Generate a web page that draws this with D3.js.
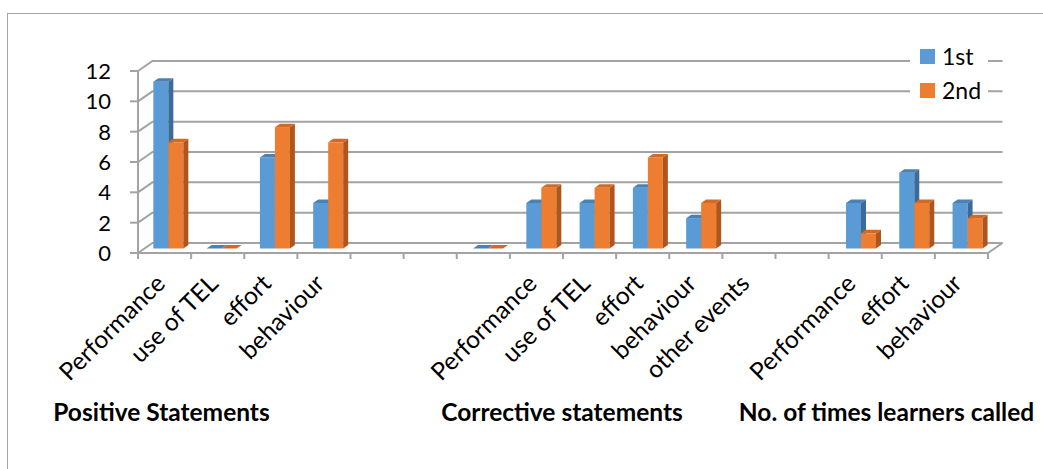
<!DOCTYPE html>
<html lang="en">
<head>
<meta charset="utf-8">
<title>Statements chart</title>
<script src="https://cdn.jsdelivr.net/npm/d3@7"></script>
<style>
  body { margin: 0; background: #fff; }
  text { font-family: Lato, sans-serif; fill: #000; }
  .grid { stroke: #a3a3a3; stroke-width: 2; fill: none; }
  .tick-label { font-size: 22px; }
  .cat-label { font-size: 24.5px; }
  .group-label { font-size: 24.5px; font-weight: bold; }
  .legend-label { font-size: 23px; }
</style>
</head>
<body>
<script>
// data
var categories = ['Performance', 'use of TEL', 'effort', 'behaviour', '', '',
                  '', 'Performance', 'use of TEL', 'effort', 'behaviour', 'other events',
                  '', 'Performance', 'effort', 'behaviour'];
var first  = [11, 0, 6, 3, null, null, 0, 3, 3, 4, 2, null, null, 3, 5, 3];
var second = [7, 0, 8, 7, null, null, 0, 4, 4, 6, 3, null, null, 1, 3, 2];
var seriesNames = ['1st', '2nd'];
var groupNames = ['Positive Statements', 'Corrective statements', 'No. of times learners called'];
var yTicks = [0, 2, 4, 6, 8, 10, 12];

var width = 1043, height = 469;
var depthX = 14.5, depthY = -10;   // front -> back wall offset
var barW = 15, sideX = 5, sideY = -3.5;

var colors = [
  { front: '#5b9bd5', side: '#3d6b98', top: '#4a81b6' },
  { front: '#ed7d31', side: '#ae561d', top: '#d16a26' }
];

var svg = d3.select('body').append('svg')
  .attr('width', width)
  .attr('height', height);

// chart border (only left + top inside the window)
svg.append('rect')
  .attr('x', 7.5).attr('y', 13.5)
  .attr('width', 1200).attr('height', 600)
  .attr('fill', 'none').attr('stroke', '#a6a6a6');

var slots = d3.range(categories.length);
var xFront = d3.scaleBand().domain(slots).range([138, 988]);
var yFront = d3.scaleLinear().domain([0, 12]).range([253, 71]);
var xBar = d3.scaleBand().domain(slots).range([141.7, 994.2]);
var yBar = d3.scaleLinear().domain([0, 12]).range([248.5, 66.5]);

var x0 = xFront.range()[0], x1 = xFront.range()[1];

// back wall gridlines + left wall slants
svg.selectAll('.grid-line')
  .data(yTicks)
  .enter()
  .append('polyline')
  .attr('class', 'grid')
  .attr('points', function(d){
    var y = yFront(d);
    return [[x0, y], [x0 + depthX, y + depthY], [x1 + depthX, y + depthY]].join(' ');
  });

// floor front edge and right slant
svg.append('polyline')
  .attr('class', 'grid')
  .attr('points', [[x0, yFront(0)], [x1, yFront(0)], [x1 + depthX, yFront(0) + depthY]].join(' '));

// left axis line
svg.append('line')
  .attr('class', 'grid')
  .attr('x1', x0).attr('x2', x0)
  .attr('y1', yFront(12)).attr('y2', yFront(0) + 6);

// y ticks
svg.selectAll('.y-tick')
  .data(yTicks)
  .enter()
  .append('line')
  .attr('class', 'grid')
  .attr('x1', x0 - 8).attr('x2', x0)
  .attr('y1', function(d){ return yFront(d); })
  .attr('y2', function(d){ return yFront(d); });

svg.selectAll('.tick-label')
  .data(yTicks)
  .enter()
  .append('text')
  .attr('class', 'tick-label')
  .attr('x', 111)
  .attr('y', function(d){ return yFront(d); })
  .attr('dy', '0.36em')
  .attr('text-anchor', 'end')
  .text(function(d){ return d; });

// x ticks at slot boundaries
var boundaries = slots.map(function(i){ return xFront(i); }).concat([x1]);
svg.selectAll('.x-tick')
  .data(boundaries)
  .enter()
  .append('line')
  .attr('class', 'grid')
  .attr('x1', function(d){ return d; })
  .attr('x2', function(d){ return d; })
  .attr('y1', yFront(0))
  .attr('y2', yFront(0) + 6);

// bars
var bars = [];
slots.forEach(function(i){
  [first, second].forEach(function(series, s){
    if (series[i] !== null) bars.push({ slot: i, s: s, value: series[i] });
  });
});

var barG = svg.selectAll('.bar')
  .data(bars)
  .enter()
  .append('g')
  .attr('class', 'bar');

function bx(d){ return xBar(d.slot) + xBar.bandwidth() / 2 - barW + d.s * barW; }

barG.append('rect')
  .attr('x', bx)
  .attr('y', function(d){ return yBar(d.value); })
  .attr('width', barW)
  .attr('height', function(d){ return yBar(0) - yBar(d.value); })
  .attr('fill', function(d){ return colors[d.s].front; });

barG.append('polygon')
  .attr('points', function(d){
    var x = bx(d) + barW, yt = yBar(d.value), yb = yBar(0);
    return [[x, yb], [x, yt], [x + sideX, yt + sideY], [x + sideX, yb + sideY]].join(' ');
  })
  .attr('fill', function(d){ return colors[d.s].side; });

barG.append('polygon')
  .attr('points', function(d){
    var x = bx(d), yt = yBar(d.value);
    return [[x, yt], [x + sideX, yt + sideY], [x + barW + sideX, yt + sideY], [x + barW, yt]].join(' ');
  })
  .attr('fill', function(d){ return colors[d.s].top; });

// category labels
svg.selectAll('.cat-label')
  .data(slots.filter(function(i){ return categories[i] !== ''; }))
  .enter()
  .append('text')
  .attr('class', 'cat-label')
  .attr('text-anchor', 'end')
  .attr('transform', function(i){
    return 'translate(' + (xFront(i) + xFront.bandwidth() / 2 + 2) + ',285) rotate(-45)';
  })
  .text(function(i){ return categories[i]; });

// group labels
var groupX = [161.5, 562, 886.5];
svg.selectAll('.group-label')
  .data(groupNames)
  .enter()
  .append('text')
  .attr('class', 'group-label')
  .attr('x', function(d, i){ return groupX[i]; })
  .attr('y', 421)
  .attr('text-anchor', 'middle')
  .text(function(d){ return d; });

// legend
var legend = svg.append('g');
legend.append('rect')
  .attr('x', 910).attr('y', 40)
  .attr('width', 78).attr('height', 66)
  .attr('fill', '#fff');

var items = legend.selectAll('.legend-item')
  .data(seriesNames)
  .enter()
  .append('g')
  .attr('transform', function(d, i){ return 'translate(920,' + (56.5 + i * 34) + ')'; });

items.append('rect')
  .attr('x', 0).attr('y', -7.5)
  .attr('width', 15).attr('height', 15)
  .attr('fill', function(d, i){ return colors[i].front; });

items.append('text')
  .attr('class', 'legend-label')
  .attr('x', 22)
  .attr('y', 0)
  .attr('dy', '0.36em')
  .text(function(d){ return d; });
</script>
</body>
</html>
